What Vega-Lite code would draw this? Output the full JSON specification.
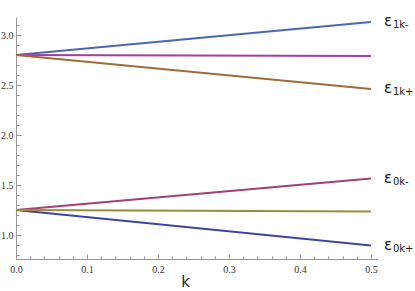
{
  "$schema": "https://vega.github.io/schema/vega-lite/v6.json",
  "width": 362,
  "height": 242,
  "autosize": "none",
  "padding": {"left": 16, "top": 17, "right": 37, "bottom": 32},
  "background": "white",
  "config": {"view": {"stroke": null}},
  "datasets": {
    "lines": [
      {"series": "e1k-", "k": 0, "E": 2.8},
      {"series": "e1k-", "k": 0.5, "E": 3.13},
      {"series": "m1", "k": 0, "E": 2.8},
      {"series": "m1", "k": 0.5, "E": 2.79},
      {"series": "e1k+", "k": 0, "E": 2.8},
      {"series": "e1k+", "k": 0.5, "E": 2.46},
      {"series": "e0k+", "k": 0, "E": 1.25},
      {"series": "e0k+", "k": 0.5, "E": 0.895},
      {"series": "e0k-", "k": 0, "E": 1.25},
      {"series": "e0k-", "k": 0.5, "E": 1.565},
      {"series": "m0", "k": 0, "E": 1.25},
      {"series": "m0", "k": 0.5, "E": 1.235}
    ],
    "labels": [
      {"k": 0.5, "E": 3.13, "sym": "ε", "sub": "1k-"},
      {"k": 0.5, "E": 2.46, "sym": "ε", "sub": "1k+"},
      {"k": 0.5, "E": 1.565, "sym": "ε", "sub": "0k-"},
      {"k": 0.5, "E": 0.895, "sym": "ε", "sub": "0k+"}
    ]
  },
  "resolve": {"axis": {"x": "independent", "y": "independent"}},
  "layer": [
    {
      "data": {"name": "lines"},
      "mark": {"type": "line", "strokeWidth": 2.2},
      "encoding": {
        "x": {
          "field": "k", "type": "quantitative",
          "scale": {"domain": [0, 0.51], "nice": false, "zero": false},
          "axis": {
            "orient": "bottom",
            "title": "k", "titleFont": "DejaVu Sans", "titleFontSize": 15, "titleFontWeight": "normal",
            "titleColor": "#222", "titleX": 169, "titleY": 22, "titleBaseline": "middle", "titleAnchor": null,
            "values": [0, 0.1, 0.2, 0.3, 0.4, 0.5], "format": ".1f",
            "domainColor": "#999", "tickColor": "#999", "tickSize": -5, "tickWidth": 1, "grid": false,
            "labelFont": "Liberation Serif", "labelFontSize": 10, "labelColor": "#333", "labelPadding": 10,
            "labelFlush": false
          }
        },
        "y": {
          "field": "E", "type": "quantitative",
          "scale": {"domain": [0.76, 3.18], "nice": false, "zero": false},
          "axis": {
            "orient": "left",
            "title": null,
            "values": [1.0, 1.5, 2.0, 2.5, 3.0], "format": ".1f",
            "domainColor": "#999", "tickColor": "#999", "tickSize": -5, "tickWidth": 1, "grid": false,
            "labelFont": "Liberation Serif", "labelFontSize": 10, "labelColor": "#333", "labelPadding": 8
          }
        },
        "color": {
          "field": "series", "type": "nominal", "legend": null,
          "scale": {
            "domain": ["e1k-", "m1", "e1k+", "e0k+", "e0k-", "m0"],
            "range": ["#4A68AE", "#A040A3", "#9E6C3B", "#4242A0", "#A24073", "#9B8C3C"]
          }
        }
      }
    },
    {
      "data": {"name": "labels"},
      "mark": {"type": "text", "align": "left", "baseline": "middle", "dx": 13, "dy": -1, "font": "DejaVu Sans", "fontSize": 15, "color": "#222"},
      "encoding": {
        "x": {
          "field": "k", "type": "quantitative",
          "scale": {"domain": [0, 0.51], "nice": false, "zero": false},
          "axis": {
            "orient": "bottom", "title": null, "labels": false, "domain": false, "grid": false,
            "values": [0.02, 0.04, 0.06, 0.08, 0.12, 0.14, 0.16, 0.18, 0.22, 0.24, 0.26, 0.28, 0.32, 0.34, 0.36, 0.38, 0.42, 0.44, 0.46, 0.48],
            "tickColor": "#999", "tickSize": -3, "tickWidth": 1
          }
        },
        "y": {
          "field": "E", "type": "quantitative",
          "scale": {"domain": [0.76, 3.18], "nice": false, "zero": false},
          "axis": {
            "orient": "left", "title": null, "labels": false, "domain": false, "grid": false,
            "values": [0.8, 0.9, 1.1, 1.2, 1.3, 1.4, 1.6, 1.7, 1.8, 1.9, 2.1, 2.2, 2.3, 2.4, 2.6, 2.7, 2.8, 2.9, 3.1],
            "tickColor": "#999", "tickSize": -3, "tickWidth": 1
          }
        },
        "text": {"field": "sym"}
      }
    },
    {
      "data": {"name": "labels"},
      "mark": {"type": "text", "align": "left", "baseline": "middle", "dx": 22, "dy": 3, "font": "DejaVu Sans", "fontSize": 10, "color": "#222"},
      "encoding": {
        "x": {"field": "k", "type": "quantitative", "scale": {"domain": [0, 0.51], "nice": false, "zero": false}, "axis": null},
        "y": {"field": "E", "type": "quantitative", "scale": {"domain": [0.76, 3.18], "nice": false, "zero": false}, "axis": null},
        "text": {"field": "sub"}
      }
    }
  ]
}
